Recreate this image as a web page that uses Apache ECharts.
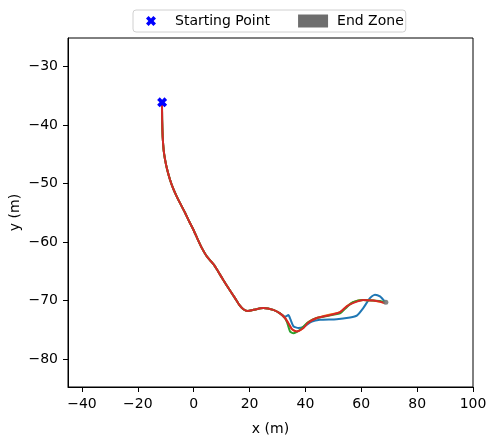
<!DOCTYPE html>
<html>
<head>
<meta charset="utf-8">
<script src="https://cdn.jsdelivr.net/npm/echarts@6/dist/echarts.min.js"></script>
<style>
  html, body { margin: 0; padding: 0; background: #fff; }
  #chart { width: 488px; height: 440px; }
</style>
</head>
<body>
<div id="chart"></div>
<script>
// tick labels
const xTicks = [-40, -20, 0, 20, 40, 60, 80, 100]
const yTicks = [-80, -70, -60, -50, -40, -30]

// start point and end zone
const startPoint = [-11.3, -36.1]
const endZone = [68.8, -70.3]

// shared first part of every run
const pathCommon = [
  [-11.35, -36.1], [-11.3, -39.0], [-11.1, -42.0], [-10.75, -44.3], [-10.25, -45.9],
  [-9.5, -47.6], [-8.5, -49.3], [-7.4, -50.8], [-6.1, -52.2], [-4.6, -53.6],
  [-3.1, -55.0], [-1.6, -56.5], [-0.1, -57.9], [1.4, -59.5], [2.9, -61.0],
  [4.6, -62.4], [6.2, -63.3], [7.4, -64.0], [8.7, -65.0], [10.6, -66.5],
  [12.6, -68.0], [14.8, -69.6], [16.4, -70.8], [17.8, -71.5], [19.4, -71.8],
  [21.4, -71.6], [24.9, -71.3], [28.5, -71.6], [30.9, -72.2]
]

// the rest of each run
const tailBlue = [
  [32.7, -72.8], [33.9, -72.5], [34.7, -73.3], [35.7, -74.4], [37.5, -74.7],
  [39.3, -74.5], [42.3, -73.6], [45.2, -73.3], [51.2, -73.2], [56.0, -72.9],
  [58.4, -72.6], [60.7, -71.3], [63.1, -69.6], [64.9, -69.0], [66.7, -69.3],
  [68.5, -70.2]
]
const tailOrange = [
  [32.7, -73.0], [33.9, -73.9], [35.1, -74.9], [36.8, -75.3], [39.2, -74.7],
  [41.0, -73.7], [44.0, -73.0], [48.8, -72.4], [52.4, -72.0], [54.8, -71.0],
  [57.1, -70.3], [60.7, -69.9], [64.3, -70.0], [66.7, -70.2], [68.5, -70.4]
]
const tailGreen = [
  [32.7, -73.0], [33.4, -73.7], [34.5, -75.3], [35.7, -75.6], [38.1, -75.0],
  [40.5, -73.9], [44.0, -73.0], [52.4, -72.2], [54.9, -71.1], [57.0, -70.3],
  [60.6, -69.9], [64.2, -70.0], [66.7, -70.1], [68.5, -70.3]
]
const tailRed = [
  [32.7, -73.0], [33.9, -73.9], [35.2, -74.9], [36.9, -75.3], [39.3, -74.7],
  [41.0, -73.8], [44.1, -73.0], [48.8, -72.5], [52.4, -72.0], [54.8, -71.0],
  [57.2, -70.4], [60.7, -69.9], [64.3, -70.0], [66.7, -70.2], [68.5, -70.5]
]

// chunky filled X like the matplotlib 'X' marker
const xShape = 'M2.6,0L5,2.4L7.4,0L10,2.6L7.6,5L10,7.4L7.4,10L5,7.6L2.6,10L0,7.4L2.4,5L0,2.6Z'
const xPath = 'path://' + xShape
// same X with empty room round it so the legend draws it smaller and centred
const xPathLegend = 'path://M-10,-1.5M20,11.5' + xShape

const font = 'DejaVu Sans'
const minus = v => String(v).replace('-', '\u2212')

const runLine = (name, color, tail) => ({
  name: name,
  type: 'line',
  data: pathCommon.concat(tail),
  symbol: 'none',
  smooth: 0.2,
  lineStyle: { width: 2, color: color },
  itemStyle: { color: color },
  z: 2
})

const chart = echarts.init(document.getElementById('chart'))

chart.setOption({
  animation: false,
  textStyle: { fontFamily: font },
  grid: {
    left: 68,
    right: 15,
    top: 38,
    bottom: 53,
    outerBoundsMode: 'none',
    show: true,
    borderColor: '#000',
    borderWidth: 1
  },
  legend: {
    data: [
      { name: 'Starting Point', icon: xPathLegend, itemStyle: { color: '#0000ff', opacity: 1 } },
      { name: 'End Zone', icon: 'rect', itemStyle: { color: '#6e6e6e', opacity: 1 } }
    ],
    left: 133,
    top: 10,
    padding: [4, 2, 4, 3],
    itemWidth: 30,
    itemHeight: 13,
    itemGap: 28,
    borderColor: '#d0d0d0',
    borderWidth: 1,
    borderRadius: 3,
    formatter: name => '{t|' + name + '}',
    textStyle: {
      fontFamily: font,
      fontSize: 14,
      color: '#000',
      rich: { t: { fontFamily: font, fontSize: 14, color: '#000', padding: [0, 0, 0, 4] } }
    }
  },
  xAxis: {
    type: 'value',
    min: -45,
    max: 100,
    name: 'x (m)',
    nameLocation: 'middle',
    nameGap: 35,
    nameMoveOverlap: false,
    nameTextStyle: { fontFamily: font, fontSize: 14, color: '#000' },
    axisLine: { show: true, onZero: false, lineStyle: { color: '#000' } },
    axisTick: { show: true, length: 5, customValues: xTicks, lineStyle: { color: '#000' } },
    axisLabel: {
      customValues: xTicks,
      margin: 10,
      fontFamily: font,
      fontSize: 14,
      color: '#000',
      formatter: minus
    },
    splitLine: { show: false }
  },
  yAxis: {
    type: 'value',
    min: -84.8,
    max: -25.1,
    name: 'y (m)',
    nameLocation: 'middle',
    nameGap: 46,
    nameMoveOverlap: false,
    nameTextStyle: { fontFamily: font, fontSize: 14, color: '#000' },
    axisLine: { show: true, onZero: false, lineStyle: { color: '#000' } },
    axisTick: { show: true, length: 5, customValues: yTicks, lineStyle: { color: '#000' } },
    axisLabel: {
      customValues: yTicks,
      margin: 10,
      fontFamily: font,
      fontSize: 14,
      color: '#000',
      formatter: minus
    },
    splitLine: { show: false }
  },
  series: [
    runLine('Run 1', '#1f77b4', tailBlue),
    runLine('Run 2', '#ff7f0e', tailOrange),
    runLine('Run 3', '#2ca02c', tailGreen),
    runLine('Run 4', '#d62728', tailRed),
    {
      name: 'End Zone',
      type: 'scatter',
      data: [endZone],
      symbol: 'circle',
      symbolSize: 5,
      itemStyle: { color: '#777', opacity: 0.9 },
      z: 3
    },
    {
      name: 'Starting Point',
      type: 'scatter',
      data: [startPoint],
      symbol: xPath,
      symbolSize: 10,
      itemStyle: { color: '#0000ff', opacity: 1 },
      z: 4
    }
  ]
})
</script>
</body>
</html>
